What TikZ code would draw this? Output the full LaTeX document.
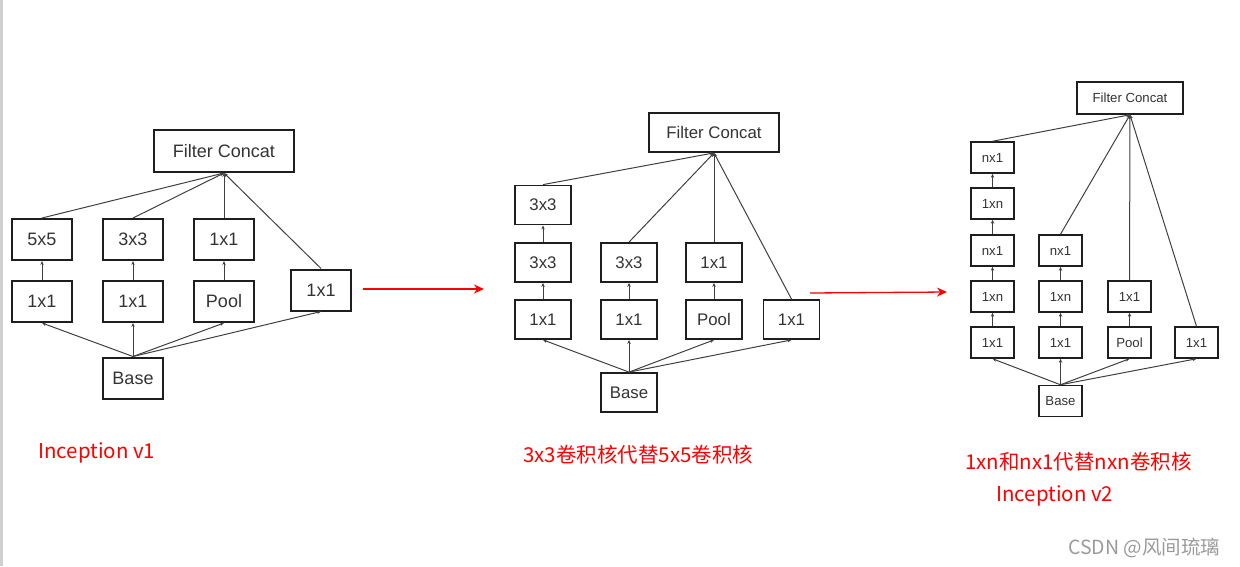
\documentclass[tikz,border=0pt]{standalone}
\usepackage{fontspec}
\setmainfont{Liberation Sans}
\newfontfamily\cjk{Noto Sans CJK SC}
\usetikzlibrary{arrows.meta}
\definecolor{boxline}{HTML}{1E1E1E}
\definecolor{txtc}{HTML}{333333}
\definecolor{lnc}{HTML}{404040}
\definecolor{redc}{HTML}{FF0000}
\definecolor{wmc}{HTML}{9A9A9A}
\definecolor{edgec}{HTML}{D0D0D0}
\begin{document}
\begin{tikzpicture}[x=1pt,y=-1pt,
  boxA/.style={draw=boxline, line width=2pt, inner sep=0pt, text=txtc, minimum width=60pt, minimum height=41pt, font=\fontsize{18}{20}\selectfont},
  boxB/.style={draw=boxline, line width=1.8pt, inner sep=0pt, text=txtc, minimum width=56pt, minimum height=39pt, font=\fontsize{16.8}{19}\selectfont},
  boxC/.style={draw=boxline, line width=1.5pt, inner sep=0pt, text=txtc, minimum width=43pt, minimum height=31pt, font=\fontsize{13.2}{15}\selectfont},
  con/.style={draw=lnc, line width=1pt, -{Stealth[length=4pt,width=3.4pt]}},
  redarrow/.style={draw=redc, line width=1.3pt, -{Stealth[length=10pt,width=9pt]}},
  redlabel/.style={text=redc, inner sep=0pt, font=\cjk\fontsize{20.5}{24}\selectfont}
]
\useasboundingbox (0,0) rectangle (1240,566);
\fill[edgec] (0,0) rectangle (3,566);

% ---------- Diagram 1 ----------
\node[boxA, minimum width=140pt, minimum height=42pt] (fc1) at (224,151) {Filter Concat};
\node[boxA] (a1) at (42,239.5) {5x5};
\node[boxA] (b1) at (133,239.5) {3x3};
\node[boxA] (c1) at (224,239.5) {1x1};
\node[boxA] (a2) at (42,301.5) {1x1};
\node[boxA] (b2) at (133,301.5) {1x1};
\node[boxA] (c2) at (224,301.5) {Pool};
\node[boxA] (d1) at (321,290) {1x1};
\node[boxA] (base1) at (133,378) {Base};
\foreach \n in {a1,b1,c1,d1} \draw[con] (\n.north) -- (fc1.south);
\draw[con] (a2) -- (a1);
\draw[con] (b2) -- (b1);
\draw[con] (c2) -- (c1);
\foreach \n in {a2,b2,c2,d1} \draw[con] (base1.north) -- (\n.south);

% ---------- Diagram 2 ----------
\node[boxB, minimum width=130pt] (fc2) at (714,132.5) {Filter Concat};
\node[boxB] (p1) at (543,205) {3x3};
\node[boxB] (p2) at (543,262.5) {3x3};
\node[boxB] (p3) at (543,319.5) {1x1};
\node[boxB] (q2) at (629,262.5) {3x3};
\node[boxB] (q3) at (629,319.5) {1x1};
\node[boxB] (r2) at (714,262.5) {1x1};
\node[boxB] (r3) at (714,319.5) {Pool};
\node[boxB] (s3) at (791.5,319.5) {1x1};
\node[boxB] (base2) at (629,392.5) {Base};
\foreach \n in {p1,q2,r2,s3} \draw[con] (\n.north) -- (fc2.south);
\draw[con] (p3) -- (p2);
\draw[con] (p2) -- (p1);
\draw[con] (q3) -- (q2);
\draw[con] (r3) -- (r2);
\foreach \n in {p3,q3,r3,s3} \draw[con] (base2.north) -- (\n.south);

% ---------- Diagram 3 ----------
\node[boxC, minimum width=106pt, minimum height=32pt] (fc3) at (1130,98) {Filter Concat};
\node[boxC] (u1) at (992.5,157.5) {nx1};
\node[boxC] (u2) at (992.5,203.5) {1xn};
\node[boxC] (u3) at (992.5,250.5) {nx1};
\node[boxC] (u4) at (992.5,296.5) {1xn};
\node[boxC] (u5) at (992.5,342.5) {1x1};
\node[boxC] (v3) at (1060.5,250.5) {nx1};
\node[boxC] (v4) at (1060.5,296.5) {1xn};
\node[boxC] (v5) at (1060.5,342.5) {1x1};
\node[boxC] (w4) at (1129.5,296.5) {1x1};
\node[boxC] (w5) at (1129.5,342.5) {Pool};
\node[boxC] (z5) at (1196.5,342.5) {1x1};
\node[boxC] (base3) at (1060.5,401) {Base};
\foreach \n in {u1,v3,w4,z5} \draw[con] (\n.north) -- (fc3.south);
\draw[con] (u5) -- (u4);
\draw[con] (u4) -- (u3);
\draw[con] (u3) -- (u2);
\draw[con] (u2) -- (u1);
\draw[con] (v5) -- (v4);
\draw[con] (v4) -- (v3);
\draw[con] (w5) -- (w4);
\foreach \n in {u5,v5,w5,z5} \draw[con] (base3.north) -- (\n.south);

% ---------- Red arrows ----------
\coordinate (ra1s) at (363,289);
\coordinate (ra1e) at (484,289);
\coordinate (ra2s) at (810,293);
\coordinate (ra2e) at (947,292);
\draw[redarrow] (ra1s) -- (ra1e);
\draw[redarrow] (ra2s) -- (ra2e);

% ---------- Labels ----------
\node[redlabel, anchor=west] (l1) at (38,453) {Inception v1};
\node[redlabel, anchor=west] (l2) at (523,455) {3x3卷积核代替5x5卷积核};
\node[redlabel, anchor=west] (l3) at (965,462) {1xn和nx1代替nxn卷积核};
\node[redlabel, anchor=west] (l4) at (996,496) {Inception v2};
\node[text=wmc, inner sep=0pt, anchor=west, font=\cjk\fontsize{19.5}{22}\selectfont] (wm) at (1068,548) {CSDN @风间琉璃};
\end{tikzpicture}
\end{document}
